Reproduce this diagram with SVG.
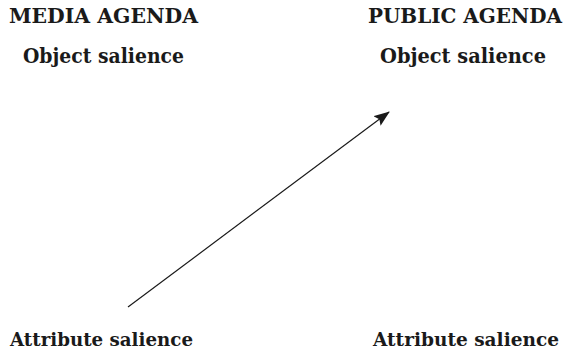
<svg xmlns="http://www.w3.org/2000/svg" width="566" height="356" viewBox="0 0 566 356">
<defs>
<style>
.t{font-family:"DejaVu Serif","Liberation Serif",serif;font-weight:bold;fill:#1a1a1a;}
.h{font-size:20px;}
.s{font-size:19.5px;}
.a{font-size:18.5px;}
.c{stroke:#1a1a1a;stroke-width:1.2;fill:none;}
</style>
<marker id="ah" viewBox="0 0 16 12" refX="15" refY="6" markerWidth="16" markerHeight="12" markerUnits="userSpaceOnUse" orient="auto">
<path d="M0,0 L16,6 L0,12 L3,6 Z" fill="#1a1a1a"/>
</marker>
</defs>
<rect width="566" height="356" fill="#ffffff"/>
<g id="media-agenda"><text class="t h" x="9" y="23" textLength="189" lengthAdjust="spacingAndGlyphs">MEDIA AGENDA</text></g>
<g id="public-agenda"><text class="t h" x="368" y="23" textLength="194" lengthAdjust="spacingAndGlyphs">PUBLIC AGENDA</text></g>
<g id="media-object"><text class="t s" x="23" y="63" textLength="161" lengthAdjust="spacingAndGlyphs">Object salience</text></g>
<g id="public-object"><text class="t s" x="380" y="63" textLength="166" lengthAdjust="spacingAndGlyphs">Object salience</text></g>
<g id="media-attribute"><text class="t a" x="10" y="346" textLength="183" lengthAdjust="spacingAndGlyphs">Attribute salience</text></g>
<g id="public-attribute"><text class="t a" x="373" y="346" textLength="186" lengthAdjust="spacingAndGlyphs">Attribute salience</text></g>
<g id="connectors"><line class="c" x1="128" y1="307" x2="389" y2="112" marker-end="url(#ah)"/></g>
</svg>
